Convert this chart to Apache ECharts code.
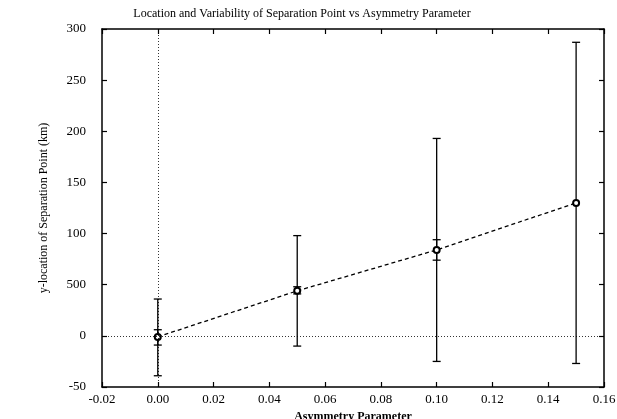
<!DOCTYPE html>
<html><head><meta charset="utf-8">
<script src="https://cdn.jsdelivr.net/npm/echarts@6/dist/echarts.min.js"></script>
<style>html,body{margin:0;padding:0;background:#fff}#c{width:617px;height:419px}</style>
</head><body><div id="c"></div>
<script>
var xValues = [0.00, 0.05, 0.10, 0.15];
var meanValues = [-1, 44, 84, 130];
var innerHigh = [6, 48, 94, null];
var innerLow = [-9, 41, 74, null];
var outerHigh = [36, 98, 193, 287];
var outerLow = [-39, -10, -25, -27];
var yTickLabels = {'-50':'-50','0':'0','50':'500','100':'100','150':'150','200':'200','250':'250','300':'300'};
var titleText = 'Location and Variability of Separation Point vs Asymmetry Parameter';
var xName = 'Asymmetry Parameter';
var yName = 'y-location of Separation Point (km)';

var font = 'Liberation Serif';
var chart = echarts.init(document.getElementById('c'), null, {renderer:'canvas'});

function errData(lo, hi){
  var d = [];
  for (var i=0;i<xValues.length;i++){ if (lo[i]!=null) d.push([xValues[i], lo[i], hi[i]]); }
  return d;
}
function errRender(capW){
  return function(params, api){
    var x = api.value(0), lo = api.value(1), hi = api.value(2);
    var p1 = api.coord([x, lo]), p2 = api.coord([x, hi]);
    var st = {stroke:'#000', lineWidth:1.3};
    return {type:'group', children:[
      {type:'line', shape:{x1:p1[0],y1:p1[1],x2:p2[0],y2:p2[1]}, style:st},
      {type:'line', shape:{x1:p1[0]-capW,y1:p1[1],x2:p1[0]+capW,y2:p1[1]}, style:st},
      {type:'line', shape:{x1:p2[0]-capW,y1:p2[1],x2:p2[0]+capW,y2:p2[1]}, style:st}
    ]};
  };
}
var lineData = xValues.map(function(x,i){return [x, meanValues[i]];});
var axisCommon = {
  axisLine:{show:true, onZero:false, lineStyle:{color:'#000', width:1.5}},
  axisTick:{show:true, inside:true, length:5, lineStyle:{color:'#000', width:1.2}},
  splitLine:{show:false}
};
chart.setOption({
  animation:false,
  backgroundColor:'#fff',
  title:{text:titleText, left:297, top:3, textAlign:'center',
    textStyle:{fontFamily:font, fontSize:12, fontWeight:'normal', color:'#000'}},
  grid:{left:102, right:13, top:29, bottom:32, containLabel:false, outerBoundsMode:'none'},
  xAxis:[
    Object.assign({type:'value', min:-0.02, max:0.16, interval:0.02, position:'bottom',
      name:xName, nameLocation:'middle', nameGap:22,
      nameTextStyle:{fontFamily:font, fontSize:12, fontWeight:'bold', color:'#000'},
      axisLabel:{fontFamily:font, fontSize:13, color:'#000', margin:6,
        formatter:function(v){return v.toFixed(2);}}}, axisCommon),
    Object.assign({type:'value', min:-0.02, max:0.16, interval:0.02, position:'top',
      axisLabel:{show:false}}, axisCommon)
  ],
  yAxis:[
    Object.assign({type:'value', min:-50, max:300, interval:50, position:'left',
      name:yName, nameLocation:'middle', nameGap:52, nameRotate:90,
      nameTextStyle:{fontFamily:font, fontSize:12, color:'#000'},
      axisLabel:{fontFamily:font, fontSize:13, color:'#000', margin:16,
        formatter:function(v){return yTickLabels[String(v)];}}}, axisCommon),
    Object.assign({type:'value', min:-50, max:300, interval:50, position:'right',
      axisLabel:{show:false}}, axisCommon)
  ],
  series:[
    {type:'line', data:[], markLine:{silent:true, symbol:'none', label:{show:false},
      lineStyle:{color:'#000', type:[1,2], width:0.8},
      data:[{xAxis:0},{yAxis:0}]}},
    {type:'custom', renderItem:errRender(4), data:errData(outerLow, outerHigh), z:3},
    {type:'custom', renderItem:errRender(4), data:errData(innerLow, innerHigh), z:3},
    {type:'line', data:lineData, symbol:'emptyCircle', symbolSize:6, showSymbol:true,
      lineStyle:{color:'#000', width:1.3, type:[4,3]},
      itemStyle:{color:'#000', borderColor:'#000', borderWidth:1.3}, z:4}
  ]
});
</script></body></html>
